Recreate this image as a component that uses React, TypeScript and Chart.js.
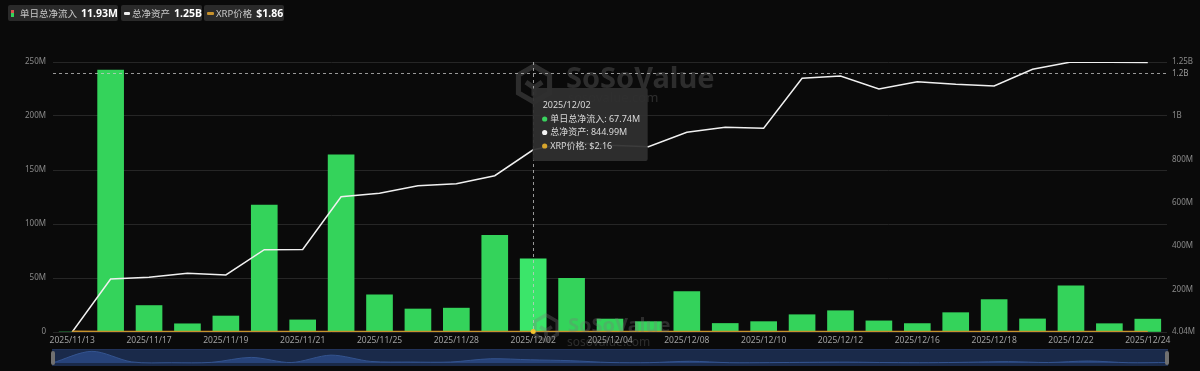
import React, { useEffect, useRef } from "react";
import { Chart, registerables } from "chart.js";

Chart.register(...registerables);

// ---------- data ----------
const dates = [
  "2025/11/13", "2025/11/14", "2025/11/17", "2025/11/18", "2025/11/19", "2025/11/20",
  "2025/11/21", "2025/11/24", "2025/11/25", "2025/11/26", "2025/11/28", "2025/12/01",
  "2025/12/02", "2025/12/03", "2025/12/04", "2025/12/05", "2025/12/08", "2025/12/09",
  "2025/12/10", "2025/12/11", "2025/12/12", "2025/12/15", "2025/12/16", "2025/12/17",
  "2025/12/18", "2025/12/19", "2025/12/22", "2025/12/23", "2025/12/24",
];
// daily total net inflow (M USD)
const inflow = [
  0, 242.6, 24.5, 7.6, 14.8, 117.6, 11.2, 164.1, 34.4, 21.3, 22.1, 89.4, 67.74, 49.7,
  12.0, 9.6, 37.4, 7.9, 9.6, 16.0, 19.7, 10.3, 7.8, 17.9, 30.0, 12.1, 42.8, 7.7, 11.93,
];
// total net assets (M USD)
const totalAssets = [
  4.04, 248.6, 256.5, 274.9, 267.1, 383.8, 384.5, 628.4, 644.1, 679.2, 688.4, 725.3,
  844.99, 880, 866, 859.1, 925.6, 948.6, 944.0, 1174.8, 1185.4, 1125.4, 1159.1, 1147.1,
  1139.2, 1216.3, 1250, 1249, 1248,
];
// XRP price (USD)
const xrpPrice = [
  2.40, 2.25, 2.15, 2.20, 2.10, 2.00, 1.95, 2.20, 2.20, 2.20, 2.20, 2.05, 2.16, 2.20,
  2.10, 2.05, 2.08, 2.06, 2.05, 2.00, 2.00, 1.95, 1.90, 1.85, 1.80, 1.90, 1.92, 1.88, 1.86,
];
const leftTicks = [0, 50, 100, 150, 200, 250];
const rightTicks = [4.04, 200, 400, 600, 800, 1000, 1250];
const hoverIndex = 12;
const crosshairValue = 1200;
const crosshairLabel = "1.2B";

const FONT = '"Noto Sans", "Noto Sans CJK SC", sans-serif';
const BG = "#0a0a0a";
const GREEN = "#34d35b";
const GREEN_HOVER = "#3be56a";
const GOLD = "#c8922c";

const fmtM = (v: number) => (v >= 1000 ? `${+(v / 1000).toFixed(2)}B` : `${v}M`);

const overlayPlugin = {
  id: "overlay",
  afterDatasetsDraw(chart: any) {
    const { ctx, chartArea, scales } = chart;
    ctx.save();
    const drawLogo = (x: number, y: number, r: number) => {
      ctx.beginPath();
      for (let k = 0; k < 6; k++) {
        const a = Math.PI / 6 + (k * Math.PI) / 3;
        const px = x + r * Math.cos(a);
        const py = y + r * Math.sin(a);
        if (k === 0) ctx.moveTo(px, py);
        else ctx.lineTo(px, py);
      }
      ctx.closePath();
      ctx.lineWidth = r * 0.28;
      ctx.stroke();
      ctx.beginPath();
      ctx.moveTo(x - r * 0.45, y - r * 0.1);
      ctx.lineTo(x, y + r * 0.2);
      ctx.lineTo(x + r * 0.45, y - r * 0.1);
      ctx.moveTo(x, y + r * 0.2);
      ctx.lineTo(x, y + r * 0.65);
      ctx.stroke();
    };
    ctx.fillStyle = "rgba(120,120,120,0.32)";
    ctx.strokeStyle = "rgba(120,120,120,0.32)";
    drawLogo(534, 84, 18);
    ctx.font = `bold 29px ${FONT}`;
    ctx.textBaseline = "middle";
    ctx.textAlign = "left";
    ctx.fillText("SoSoValue", 566, 80);
    ctx.font = `13px ${FONT}`;
    ctx.fillText("sosovalue.com", 568, 98);
    drawLogo(546, 328, 13);
    ctx.font = `bold 20px ${FONT}`;
    ctx.fillText("SoSoValue", 568, 326);
    ctx.font = `12px ${FONT}`;
    ctx.fillText("sosovalue.com", 567, 343);

    // crosshair
    const x = scales.x.getPixelForValue(hoverIndex);
    const yc = scales.yRight.getPixelForValue(crosshairValue);
    ctx.setLineDash([3, 3]);
    ctx.lineWidth = 1;
    ctx.strokeStyle = "rgba(200,200,200,0.75)";
    ctx.beginPath();
    ctx.moveTo(Math.round(x) + 0.5, chartArea.top);
    ctx.lineTo(Math.round(x) + 0.5, chartArea.bottom);
    ctx.moveTo(chartArea.left, Math.round(yc) + 0.5);
    ctx.lineTo(chartArea.right, Math.round(yc) + 0.5);
    ctx.stroke();
    ctx.setLineDash([]);
    ctx.fillStyle = "#9a9a9a";
    ctx.font = `8px ${FONT}`;
    ctx.fillText(crosshairLabel, chartArea.right + 5, yc + 0.5);

    // hover point on price line
    const yp = scales.yPrice.getPixelForValue(xrpPrice[hoverIndex]);
    ctx.fillStyle = "#f2c230";
    ctx.beginPath();
    ctx.arc(x, yp, 2.5, 0, Math.PI * 2);
    ctx.fill();

    // tooltip
    const bx = x - 0.5;
    const by = 88;
    const bw = 115;
    const bh = 73;
    ctx.fillStyle = "rgba(48,48,48,0.94)";
    ctx.beginPath();
    ctx.roundRect(bx, by, bw, bh, 2);
    ctx.fill();
    ctx.fillStyle = "#d8d8d8";
    ctx.font = `9px ${FONT}`;
    ctx.fillText(dates[hoverIndex], bx + 10, 105.5);
    const rows = [
      { c: "#3ad35f", t: `单日总净流入: ${inflow[hoverIndex]}M` },
      { c: "#f2f2f2", t: `总净资产: ${totalAssets[hoverIndex]}M` },
      { c: "#d7a52c", t: `XRP价格: $${xrpPrice[hoverIndex]}` },
    ];
    rows.forEach((r, i) => {
      const ry = 119 + i * 13.5;
      ctx.fillStyle = r.c;
      ctx.beginPath();
      ctx.arc(bx + 12, ry, 2.6, 0, Math.PI * 2);
      ctx.fill();
      ctx.fillStyle = "#d8d8d8";
      ctx.fillText(r.t, bx + 17.5, ry);
    });
    ctx.restore();
  },
};

export default function App() {
  const mainRef = useRef<HTMLCanvasElement>(null);
  const navRef = useRef<HTMLCanvasElement>(null);

  useEffect(() => {
    document.body.style.margin = "0";
    document.body.style.background = BG;
    const tickFont = { size: 8, family: FONT };
    const chart = new Chart(mainRef.current as HTMLCanvasElement, {
      type: "bar",
      data: {
        labels: dates,
        datasets: [
          {
            type: "line",
            label: "XRP价格",
            data: xrpPrice,
            yAxisID: "yPrice",
            borderColor: GOLD,
            borderWidth: 1.5,
            pointRadius: 0,
            order: 0,
          },
          {
            type: "line",
            label: "总净资产",
            data: totalAssets,
            yAxisID: "yRight",
            borderColor: "#f0f0f0",
            borderWidth: 1.5,
            pointRadius: 0,
            tension: 0,
            order: 1,
          },
          {
            type: "bar",
            label: "单日总净流入",
            data: inflow,
            yAxisID: "yLeft",
            backgroundColor: inflow.map((_, i) => (i === hoverIndex ? GREEN_HOVER : GREEN)),
            barThickness: 26,
            order: 2,
          },
        ] as any,
      },
      options: {
        animation: false,
        responsive: false,
        maintainAspectRatio: false,
        layout: { padding: { top: 62, left: 0, right: 0, bottom: 0 } },
        plugins: { legend: { display: false }, tooltip: { enabled: false } },
        scales: {
          x: {
            grid: { display: false, drawTicks: false },
            border: { display: false },
            ticks: {
              autoSkip: false,
              maxRotation: 0,
              color: "#a0a0a0",
              font: { size: 8.5, family: FONT },
              padding: 3,
              callback: (_v: any, i: number) => (i % 2 === 0 ? dates[i] : ""),
            },
            afterFit: (s: any) => {
              s.height = 39;
            },
          },
          yLeft: {
            position: "left",
            min: 0,
            max: 250,
            afterBuildTicks: (s: any) => {
              s.ticks = leftTicks.map((v) => ({ value: v }));
            },
            ticks: {
              color: "#8a8a8a",
              font: tickFont,
              padding: 7,
              callback: (v: any) => (v === 0 ? "0" : `${v}M`),
            },
            grid: { color: "#262626", drawTicks: false, lineWidth: 1 },
            border: { display: false },
            afterFit: (s: any) => {
              s.width = 53;
            },
          },
          yRight: {
            position: "right",
            min: 4.04,
            max: 1250,
            afterBuildTicks: (s: any) => {
              s.ticks = rightTicks.map((v) => ({ value: v }));
            },
            ticks: {
              color: "#8a8a8a",
              font: tickFont,
              padding: 5,
              callback: (v: any) => fmtM(v),
            },
            grid: { drawOnChartArea: false, drawTicks: false },
            border: { display: false },
            afterFit: (s: any) => {
              s.width = 33;
            },
          },
          yPrice: { display: false, min: 0, max: 1000 },
        },
      } as any,
      plugins: [overlayPlugin],
    });

    const nav = new Chart(navRef.current as HTMLCanvasElement, {
      type: "line",
      data: {
        labels: dates,
        datasets: [
          {
            data: inflow,
            fill: "origin",
            backgroundColor: "rgba(42,72,130,0.85)",
            borderColor: "#34548f",
            borderWidth: 1,
            pointRadius: 0,
            tension: 0.3,
          },
        ],
      },
      options: {
        animation: false,
        responsive: false,
        maintainAspectRatio: false,
        layout: { padding: 0 },
        plugins: { legend: { display: false }, tooltip: { enabled: false } },
        scales: {
          x: { display: false, offset: false },
          y: { display: false, min: -60, max: 270 },
        },
      } as any,
    });

    return () => {
      chart.destroy();
      nav.destroy();
    };
  }, []);

  const chip: React.CSSProperties = {
    position: "absolute",
    top: 5,
    height: 16,
    background: "#2a2a2a",
    borderRadius: 2,
    display: "flex",
    alignItems: "center",
    fontFamily: FONT,
    whiteSpace: "nowrap",
  };
  const lbl: React.CSSProperties = { color: "#c8c8c8", fontSize: 9.5, marginRight: 4 };
  const val: React.CSSProperties = { color: "#ffffff", fontSize: 10.5, fontWeight: 700 };

  return (
    <div style={{ position: "relative", width: 1200, height: 371, background: BG, overflow: "hidden" }}>
      <canvas ref={mainRef} width={1200} height={371} style={{ position: "absolute", left: 0, top: 0 }} />
      <div style={{ ...chip, left: 8, width: 110 }}>
        <span
          style={{
            display: "inline-block",
            width: 6,
            height: 7,
            marginLeft: 3,
            marginRight: 6,
            background: "linear-gradient(#d9534f 0 50%, #34d35b 50% 100%)",
          }}
        />
        <span style={lbl}>单日总净流入</span>
        <span style={val}>11.93M</span>
      </div>
      <div style={{ ...chip, left: 121, width: 81 }}>
        <span
          style={{ display: "inline-block", width: 7, height: 3, borderRadius: 1, background: "#f0f0f0", marginLeft: 3, marginRight: 2 }}
        />
        <span style={lbl}>总净资产</span>
        <span style={val}>1.25B</span>
      </div>
      <div style={{ ...chip, left: 204, width: 80 }}>
        <span
          style={{ display: "inline-block", width: 7, height: 3, borderRadius: 1, background: GOLD, marginLeft: 3, marginRight: 2 }}
        />
        <span style={lbl}>XRP价格</span>
        <span style={val}>$1.86</span>
      </div>
      <div
        style={{
          position: "absolute",
          left: 52,
          top: 349,
          width: 1116,
          height: 17,
          background: "#1a2a4a",
          borderTop: "1px solid #22335a",
          boxSizing: "border-box",
        }}
      >
        <canvas ref={navRef} width={1116} height={16} style={{ position: "absolute", left: 0, top: 0 }} />
        <div style={{ position: "absolute", left: -1, top: 1, width: 4, height: 14, borderRadius: 2, background: "#707070" }} />
        <div style={{ position: "absolute", right: -1, top: 1, width: 4, height: 14, borderRadius: 2, background: "#707070" }} />
      </div>
    </div>
  );
}
